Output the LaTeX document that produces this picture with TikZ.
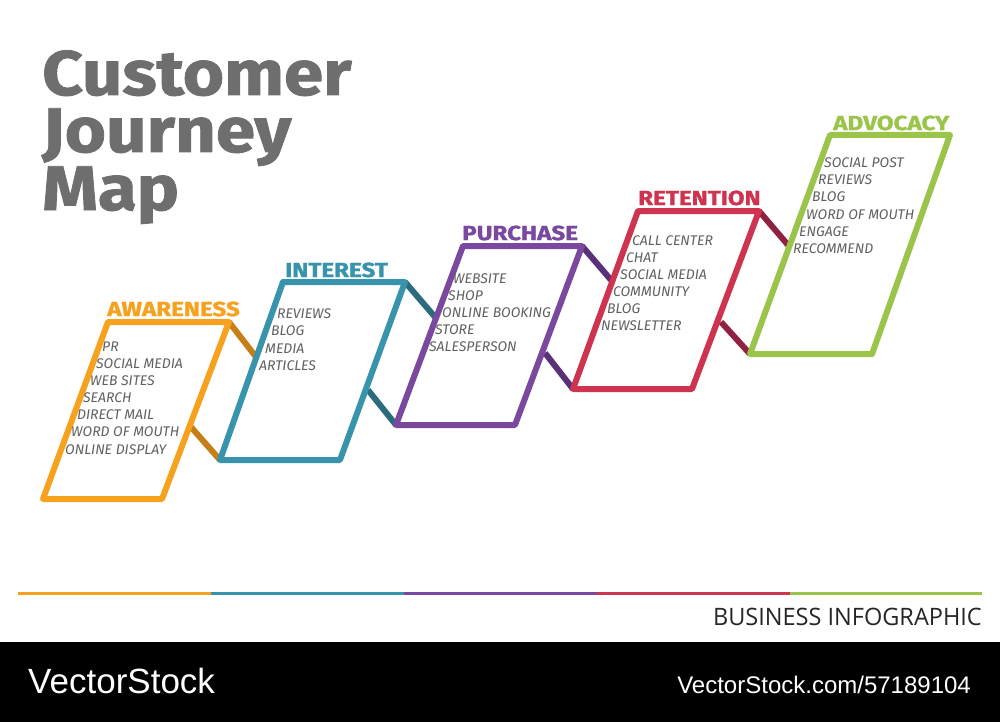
\documentclass[tikz,border=0pt]{standalone}
\usepackage{fontspec}
\setmainfont{Fira Sans}
\newfontfamily\heavyfont{Fira Sans}[BoldFeatures={FakeBold=1.2}]
\newfontfamily\footfont{Liberation Sans}
\newfontfamily\thinfont{Open Sans}
\definecolor{cOrange}{HTML}{F6A21E}
\definecolor{cOrangeD}{HTML}{C47F17}
\definecolor{cTeal}{HTML}{3894AC}
\definecolor{cTealD}{HTML}{2A6B7D}
\definecolor{cPurple}{HTML}{7B48A0}
\definecolor{cPurpleD}{HTML}{5A3178}
\definecolor{cRed}{HTML}{CE3350}
\definecolor{cRedD}{HTML}{8E2240}
\definecolor{cGreen}{HTML}{9BC44B}
\definecolor{titlegray}{HTML}{6E6E6E}
\definecolor{itemgray}{HTML}{606060}
\tikzset{
  stagebox/.style={line width=6pt, line join=round, fill=white},
  conn/.style={line width=6pt},
  item/.style={anchor=west, inner sep=0pt, text=itemgray, font=\fontsize{14}{14}\selectfont\itshape},
  head/.style={anchor=west, inner sep=0pt, xscale=1.18, font=\heavyfont\fontsize{20.5}{20}\selectfont\bfseries},
  titletext/.style={anchor=base west, inner sep=0pt, xscale=1.125, text=titlegray, font=\heavyfont\fontsize{63}{63}\selectfont\bfseries},
  bandline/.style={line width=3pt}
}
\begin{document}
\begin{tikzpicture}[x=1pt,y=-1pt]
\useasboundingbox (0,0) rectangle (1000,722);
\fill[white] (0,0) rectangle (1000,722);

% title
\node[titletext] (t1) at (42,95) {Customer};
\node[titletext] (t2) at (42,152) {Journey};
\node[titletext] (t3) at (42,210) {Map};

% corners
\coordinate (aTL) at (108,322); \coordinate (aTR) at (229,322);
\coordinate (aBR) at (162,499); \coordinate (aBL) at (43,499);
\coordinate (iTL) at (283,282); \coordinate (iTR) at (405,282);
\coordinate (iBR) at (340,460); \coordinate (iBL) at (220,460);
\coordinate (pTL) at (463,246); \coordinate (pTR) at (582,246);
\coordinate (pBR) at (515,425); \coordinate (pBL) at (396,425);
\coordinate (rTL) at (638,211); \coordinate (rTR) at (759,211);
\coordinate (rBR) at (692,389); \coordinate (rBL) at (573,389);
\coordinate (vTL) at (830,135); \coordinate (vTR) at (950,135);
\coordinate (vBR) at (872,354); \coordinate (vBL) at (750,354);

% connector free ends
\coordinate (ai1) at (256,357); \coordinate (ai2) at (191,427);
\coordinate (ip1) at (435,317); \coordinate (ip2) at (368,390);
\coordinate (pr1) at (611,280); \coordinate (pr2) at (545,353);
\coordinate (rv1) at (788,245); \coordinate (rv2) at (721,322);

% connectors
\draw[conn, cOrangeD] (aTR) -- (ai1);
\draw[conn, cOrangeD] (ai2) -- (iBL);
\draw[conn, cTealD] (iTR) -- (ip1);
\draw[conn, cTealD] (ip2) -- (pBL);
\draw[conn, cPurpleD] (pTR) -- (pr1);
\draw[conn, cPurpleD] (pr2) -- (rBL);
\draw[conn, cRedD] (rTR) -- (rv1);
\draw[conn, cRedD] (rv2) -- (vBL);

% boxes
\draw[stagebox, draw=cOrange] (aTL) -- (aTR) -- (aBR) -- (aBL) -- cycle;
\draw[stagebox, draw=cTeal] (iTL) -- (iTR) -- (iBR) -- (iBL) -- cycle;
\draw[stagebox, draw=cPurple] (pTL) -- (pTR) -- (pBR) -- (pBL) -- cycle;
\draw[stagebox, draw=cRed] (rTL) -- (rTR) -- (rBR) -- (rBL) -- cycle;
\draw[stagebox, draw=cGreen] (vTL) -- (vTR) -- (vBR) -- (vBL) -- cycle;

% headers
\node[head, text=cOrange] (ha) at (107,309) {AWARENESS};
\node[head, text=cTeal] (hi) at (285,270) {INTEREST};
\node[head, text=cPurple] (hp) at (462,233) {PURCHASE};
\node[head, text=cRed] (hr) at (638,198) {RETENTION};
\node[head, text=cGreen] (hv) at (833,123) {ADVOCACY};

% awareness items
\node[item] (a1) at (102,347) {PR};
\node[item] (a2) at (96,364) {SOCIAL MEDIA};
\node[item] (a3) at (90,381) {WEB SITES};
\node[item] (a4) at (83,398) {SEARCH};
\node[item] (a5) at (77,415) {DIRECT MAIL};
\node[item] (a6) at (71,432) {WORD OF MOUTH};
\node[item] (a7) at (65,450) {ONLINE DISPLAY};

% interest items
\node[item] (i1) at (277,314) {REVIEWS};
\node[item] (i2) at (271,331) {BLOG};
\node[item] (i3) at (265,349) {MEDIA};
\node[item] (i4) at (259,366) {ARTICLES};

% purchase items
\node[item] (p1) at (453,279) {WEBSITE};
\node[item] (p2) at (448,296) {SHOP};
\node[item] (p3) at (442,313) {ONLINE BOOKING};
\node[item] (p4) at (435,330) {STORE};
\node[item] (p5) at (429,347) {SALESPERSON};

% retention items
\node[item] (r1) at (632,241) {CALL CENTER};
\node[item] (r2) at (626,258) {CHAT};
\node[item] (r3) at (620,275) {SOCIAL MEDIA};
\node[item] (r4) at (613,292) {COMMUNITY};
\node[item] (r5) at (607,309) {BLOG};
\node[item] (r6) at (601,326) {NEWSLETTER};

% advocacy items
\node[item] (v1) at (824,163) {SOCIAL POST};
\node[item] (v2) at (818,180) {REVIEWS};
\node[item] (v3) at (812,197) {BLOG};
\node[item] (v4) at (806,215) {WORD OF MOUTH};
\node[item] (v5) at (799,232) {ENGAGE};
\node[item] (v6) at (793,249) {RECOMMEND};

% bottom band
\coordinate (b0) at (18,593); \coordinate (b1) at (211,593);
\coordinate (b2) at (404,593); \coordinate (b3) at (597,593);
\coordinate (b4) at (790,593); \coordinate (b5) at (982,593);
\draw[bandline, cOrange] (b0) -- (b1);
\draw[bandline, cTeal] (b1) -- (b2);
\draw[bandline, cPurple] (b2) -- (b3);
\draw[bandline, cRed] (b3) -- (b4);
\draw[bandline, cGreen] (b4) -- (b5);

\node[anchor=base east, inner sep=0pt, xscale=0.98, text=black!85, font=\thinfont\fontsize{24}{24}\selectfont] (bi) at (982,625) {BUSINESS INFOGRAPHIC};

% footer bar
\fill[black] (0,642) rectangle (1000,722);
\node[anchor=base west, inner sep=0pt, text=white, font=\footfont\fontsize{35}{35}\selectfont] (vs) at (28,693) {VectorStock};
\node[anchor=base east, inner sep=0pt, text=white, font=\footfont\fontsize{24}{24}\selectfont] (vu) at (971,693) {VectorStock.com/57189104};
\end{tikzpicture}
\end{document}
